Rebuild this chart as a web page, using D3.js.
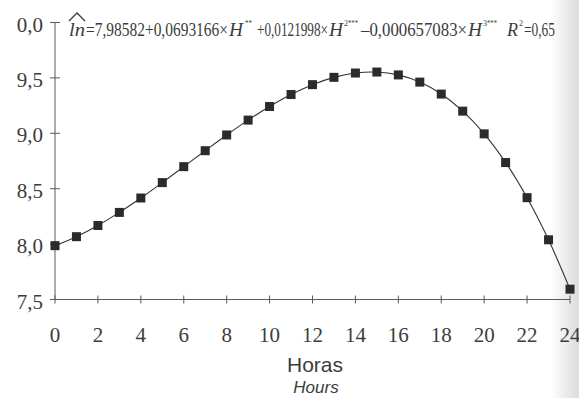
<!DOCTYPE html>
<html>
<head>
<meta charset="utf-8">
<script src="https://cdn.jsdelivr.net/npm/d3@7"></script>
<style>
  html, body { margin: 0; padding: 0; background: #fff; }
  svg { display: block; }
</style>
</head>
<body>
<div id="chart"></div>
<script>
(function () {
  'use strict';

  // ── Data ──
  var hours = [0, 1, 2, 3, 4, 5, 6, 7, 8, 9, 10, 11, 12, 13, 14, 15, 16, 17, 18, 19, 20, 21, 22, 23, 24];
  var lnValues = [7.986, 8.067, 8.168, 8.286, 8.416, 8.555, 8.699, 8.843, 8.985, 9.119, 9.242,
                  9.350, 9.439, 9.505, 9.544, 9.553, 9.527, 9.462, 9.354, 9.200, 8.995, 8.736,
                  8.419, 8.039, 7.593];
  var xTicks = [0, 2, 4, 6, 8, 10, 12, 14, 16, 18, 20, 22, 24];
  var yTicks = [7.5, 8.0, 8.5, 9.0, 9.5, 10.0];
  var yTickLabels = ['7,5', '8,0', '8,5', '9,0', '9,5', '0,0'];

  // ── Constants ──
  var WIDTH = 579;
  var HEIGHT = 398;
  var X0 = 55, X1 = 570;
  var Y0 = 299.5, Y1 = 22.5;
  var AXIS_COLOR = '#5a5a5a';
  var TEXT_COLOR = '#3c3c3c';
  var SERIF = '"Liberation Serif", "Times New Roman", serif';
  var SANS = '"Liberation Sans", Arial, sans-serif';

  var svg = d3.select('#chart').append('svg')
    .attr('width', WIDTH)
    .attr('height', HEIGHT);

  // scanned page shading at the right edge
  var grad = svg.append('defs').append('linearGradient')
    .attr('id', 'edge').attr('x1', 0).attr('x2', 1).attr('y1', 0).attr('y2', 0);
  grad.append('stop').attr('offset', '0%').attr('stop-color', '#ffffff');
  grad.append('stop').attr('offset', '100%').attr('stop-color', '#dcdcdc');
  svg.append('rect')
    .attr('x', 550).attr('y', 0).attr('width', WIDTH - 550).attr('height', HEIGHT)
    .attr('fill', 'url(#edge)');

  var x = d3.scaleLinear().domain([0, 24]).range([X0, X1]);
  var y = d3.scaleLinear().domain([7.5, 10]).range([Y0, Y1]);

  // ── Axes ──
  var axes = svg.append('g').attr('stroke', AXIS_COLOR).attr('stroke-width', 1);
  axes.append('line')
    .attr('x1', x(0)).attr('x2', x(0)).attr('y1', y(10)).attr('y2', y(7.5));
  axes.append('line')
    .attr('x1', x(0) - 5).attr('x2', x(24)).attr('y1', y(7.5)).attr('y2', y(7.5));

  axes.selectAll('.ytick')
    .data(yTicks)
    .join('line')
    .attr('class', 'ytick')
    .attr('x1', x(0) - 5).attr('x2', x(0) + 5)
    .attr('y1', function (d) { return y(d); })
    .attr('y2', function (d) { return y(d); });

  axes.selectAll('.xtick')
    .data(xTicks)
    .join('line')
    .attr('class', 'xtick')
    .attr('x1', function (d) { return x(d); })
    .attr('x2', function (d) { return x(d); })
    .attr('y1', y(7.5) - 4).attr('y2', y(7.5) + 4);

  svg.selectAll('.ylabel')
    .data(yTicks)
    .join('text')
    .attr('class', 'ylabel')
    .attr('x', 43)
    .attr('y', function (d) { return y(d) + 9; })
    .attr('text-anchor', 'end')
    .attr('font-family', SERIF)
    .attr('font-size', 21)
    .attr('fill', TEXT_COLOR)
    .text(function (d, i) { return yTickLabels[i]; });

  svg.selectAll('.xlabel')
    .data(xTicks)
    .join('text')
    .attr('class', 'xlabel')
    .attr('x', function (d) { return x(d); })
    .attr('y', 342)
    .attr('text-anchor', 'middle')
    .attr('font-family', SERIF)
    .attr('font-size', 21)
    .attr('fill', TEXT_COLOR)
    .text(function (d) { return d; });

  // ── Axis titles ──
  svg.append('text')
    .attr('x', 315).attr('y', 372)
    .attr('text-anchor', 'middle')
    .attr('font-family', SANS).attr('font-size', 21)
    .attr('fill', TEXT_COLOR)
    .text('Horas');
  svg.append('text')
    .attr('x', 316).attr('y', 393)
    .attr('text-anchor', 'middle')
    .attr('font-family', SANS).attr('font-size', 17).attr('font-style', 'italic')
    .attr('fill', TEXT_COLOR)
    .text('Hours');

  // ── Curve and markers ──
  var pts = hours.map(function (h, i) { return [h, lnValues[i]]; });
  var line = d3.line()
    .x(function (d) { return x(d[0]); })
    .y(function (d) { return y(d[1]); })
    .curve(d3.curveCatmullRom);

  svg.append('path')
    .datum(pts)
    .attr('d', line)
    .attr('fill', 'none')
    .attr('stroke', '#333')
    .attr('stroke-width', 1.1);

  var S = 9;
  svg.selectAll('.pt')
    .data(pts)
    .join('rect')
    .attr('class', 'pt')
    .attr('x', function (d) { return x(d[0]) - S / 2; })
    .attr('y', function (d) { return y(d[1]) - S / 2; })
    .attr('width', S).attr('height', S)
    .attr('fill', '#2b2b2b');

  // ── Regression equation (condensed, piece by piece) ──
  var EQ_BASE = 36;
  var eqParts = [
    { s: 'ln', x: 69, w: 16, italic: true },
    { s: '=7,98582+0,0693166×', x: 86, w: 142 },
    { s: 'H', x: 229, w: 14, italic: true },
    { s: '**', x: 245, w: 7, sup: true },
    { s: '+0,0121998×', x: 257, w: 71 },
    { s: 'H', x: 329, w: 14, italic: true },
    { s: '2', x: 344, w: 4, sup: true },
    { s: '***', x: 348, w: 10, sup: true },
    { s: '–0,000657083×', x: 361, w: 106 },
    { s: 'H', x: 468, w: 14, italic: true },
    { s: '3', x: 483, w: 4, sup: true },
    { s: '***', x: 487, w: 10, sup: true },
    { s: 'R', x: 507, w: 11, italic: true },
    { s: '2', x: 519, w: 4, sup: true },
    { s: '=0,65', x: 524, w: 31 }
  ];

  var eq = svg.append('g')
    .attr('font-family', SERIF)
    .attr('fill', TEXT_COLOR);

  eq.selectAll('text')
    .data(eqParts)
    .join('text')
    .attr('x', function (d) { return d.x; })
    .attr('y', function (d) { return d.sup ? EQ_BASE - 10 : EQ_BASE; })
    .attr('font-size', function (d) { return d.sup ? 9 : 19; })
    .attr('font-style', function (d) { return d.italic ? 'italic' : null; })
    .attr('textLength', function (d) { return d.w; })
    .attr('lengthAdjust', 'spacingAndGlyphs')
    .text(function (d) { return d.s; });

  // hat over "ln"
  eq.append('path')
    .attr('d', 'M69,21 L77,13 L85,21')
    .attr('fill', 'none')
    .attr('stroke', TEXT_COLOR)
    .attr('stroke-width', 1.3);
})();
</script>
</body>
</html>
